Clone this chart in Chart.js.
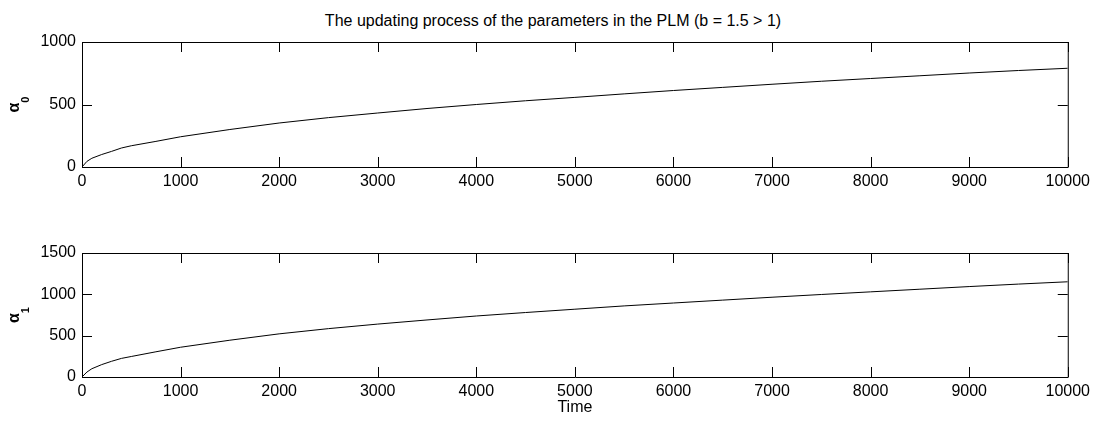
<!DOCTYPE html>
<html>
<head>
<meta charset="utf-8">
<script src="https://cdn.jsdelivr.net/npm/chart.js@4.4.1/dist/chart.umd.min.js"></script>
<style>
  body { margin: 0; background: #fff; }
  #quadro { position: relative; width: 1095px; height: 421px; font-family: "Liberation Sans", Arial, sans-serif; }
  #titulo { position: absolute; left: 553px; top: 13px; transform: translateX(-50%); font-size: 16px; line-height: 16px; white-space: nowrap; color: #000; }
  canvas { position: absolute; left: 0; }
  #grafico-a0 { top: 0; }
  #grafico-a1 { top: 200px; }
</style>
</head>
<body>
<div id="quadro">
  <div id="titulo">The updating process of the parameters in the PLM (b = 1.5 &gt; 1)</div>
  <canvas id="grafico-a0" width="1095" height="200"></canvas>
  <canvas id="grafico-a1" width="1095" height="221"></canvas>
</div>
<script>
// Instantes de tempo e valores dos parâmetros
const tempos = [0, 50, 100, 200, 300, 400, 500, 750, 1000, 1500, 2000, 2500, 3000, 3500, 4000, 4500, 5000, 5500, 6000, 6500, 7000, 7500, 8000, 8500, 9000, 9500, 10000];
const alpha0 = [0, 45, 70, 100, 125, 152, 170, 205, 242, 300, 352, 395, 432, 468, 500, 530, 557, 585, 612, 637, 662, 686, 708, 730, 752, 772, 790];
const alpha1 = [0, 60, 100, 150, 190, 225, 248, 305, 360, 445, 522, 585, 640, 690, 738, 780, 820, 860, 895, 930, 965, 998, 1030, 1062, 1094, 1124, 1152];

// Escalas dos eixos
const ticksTempo = { min: 0, max: 10000, passo: 1000 };
const ticksA0 = { min: 0, max: 1000, passo: 500 };
const ticksA1 = { min: 0, max: 1500, passo: 500 };

Chart.defaults.font.family = '"Liberation Sans", Arial, sans-serif';
Chart.defaults.font.size = 16;
Chart.defaults.color = '#000';

// Números sem separador de milhar
const semSeparador = v => String(v);

// Caixa com marcas para dentro nos quatro lados + rótulo do eixo y
const caixaMatlab = {
  id: 'caixaMatlab',
  afterDraw(chart, args, opts) {
    const { ctx, chartArea: a, scales: { x, y } } = chart;
    const tam = 10;
    ctx.save();
    ctx.strokeStyle = '#000';
    ctx.lineWidth = 1;
    ctx.beginPath();
    ctx.rect(a.left + 0.5, a.top + 0.5, a.right - a.left, a.bottom - a.top);
    x.ticks.forEach(t => {
      const px = Math.round(x.getPixelForValue(t.value)) + 0.5;
      ctx.moveTo(px, a.bottom); ctx.lineTo(px, a.bottom - tam);
      ctx.moveTo(px, a.top); ctx.lineTo(px, a.top + tam);
    });
    y.ticks.forEach(t => {
      const py = Math.round(y.getPixelForValue(t.value)) + 0.5;
      ctx.moveTo(a.left, py); ctx.lineTo(a.left + tam, py);
      ctx.moveTo(a.right, py); ctx.lineTo(a.right - tam, py);
    });
    ctx.stroke();

    // α com subscrito, girado 90 graus
    const cy = (a.top + a.bottom) / 2;
    ctx.translate(opts.xBase, cy);
    ctx.rotate(-Math.PI / 2);
    ctx.fillStyle = '#000';
    ctx.textBaseline = 'alphabetic';
    ctx.font = 'bold 16px "Liberation Sans", Arial, sans-serif';
    const wA = ctx.measureText('α').width;
    ctx.font = 'bold 11px "Liberation Sans", Arial, sans-serif';
    const wS = ctx.measureText(opts.sub).width;
    const x0 = -(wA + wS) / 2;
    ctx.font = 'bold 16px "Liberation Sans", Arial, sans-serif';
    ctx.fillText('α', x0, 0);
    ctx.font = 'bold 11px "Liberation Sans", Arial, sans-serif';
    ctx.fillText(opts.sub, x0 + wA, 10);
    ctx.restore();
  }
};

function criarPainel(id, serie, escalaY, sub, topo, alturaX, tituloX) {
  const ctx = document.getElementById(id).getContext('2d');
  return new Chart(ctx, {
    type: 'line',
    data: {
      datasets: [{
        data: tempos.map((t, i) => ({ x: t, y: serie[i] })),
        borderColor: '#000',
        borderWidth: 1,
        pointRadius: 0,
        tension: 0,
        fill: false
      }]
    },
    options: {
      responsive: false,
      animation: false,
      layout: { padding: { top: topo, right: 25, left: 0, bottom: 0 } },
      plugins: {
        legend: { display: false },
        tooltip: { enabled: false },
        caixaMatlab: { sub: sub, xBase: 19 }
      },
      scales: {
        x: {
          type: 'linear',
          min: ticksTempo.min,
          max: ticksTempo.max,
          grid: { display: false, drawTicks: false },
          border: { display: false },
          ticks: { stepSize: ticksTempo.passo, padding: 5, maxRotation: 0, autoSkip: false, callback: semSeparador },
          title: tituloX ? { display: true, text: tituloX, padding: { top: 0, bottom: 4 }, font: { size: 16 } } : { display: false },
          afterFit: s => { s.height = alturaX; }
        },
        y: {
          min: escalaY.min,
          max: escalaY.max,
          grid: { display: false, drawTicks: false },
          border: { display: false },
          ticks: { stepSize: escalaY.passo, padding: 6, callback: semSeparador },
          afterFit: s => { s.width = 82; }
        }
      }
    },
    plugins: [caixaMatlab]
  });
}

criarPainel('grafico-a0', alpha0, ticksA0, '0', 42, 33, null);
criarPainel('grafico-a1', alpha1, ticksA1, '1', 53, 44, 'Time');
</script>
</body>
</html>
